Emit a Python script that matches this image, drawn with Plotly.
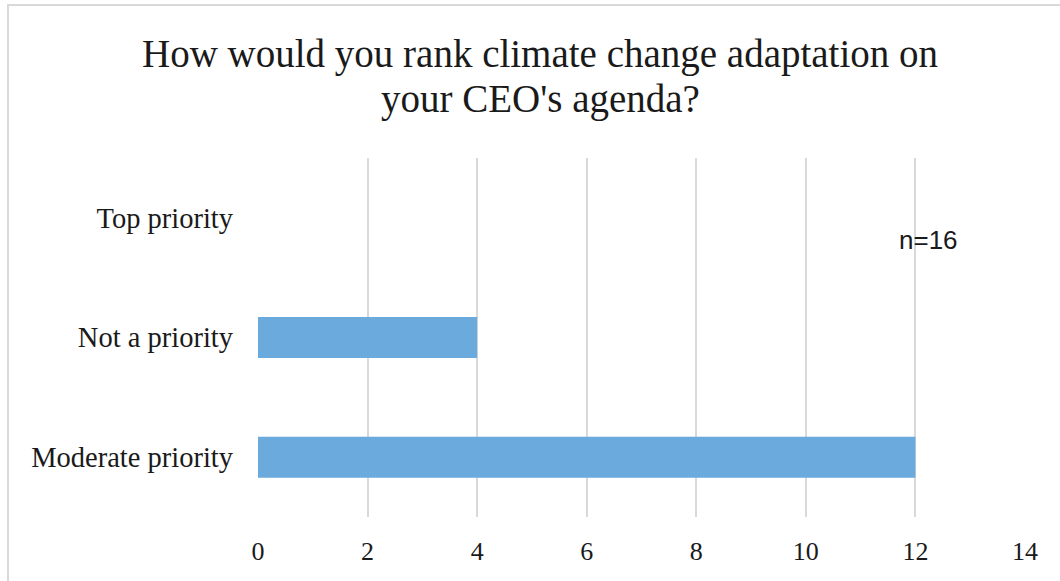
import plotly.graph_objects as go

categories = ["Moderate priority", "Not a priority", "Top priority"]
counts = [12, 4, 0]
tick_values = [0, 2, 4, 6, 8, 10, 12, 14]
title_lines = ["How would you rank climate change adaptation on", "your CEO's agenda?"]
note_text = "n=16"

W, H = 1060, 581
L, R, T, B = 258, 35, 158, 64
pw, ph = W - L - R, H - T - B

def px(x):
    return (x - L) / pw

def py(y):
    return (H - B - y) / ph

fig = go.Figure(
    go.Bar(
        y=categories,
        x=counts,
        orientation="h",
        marker=dict(color="#6aaadc", line=dict(width=0)),
        hoverinfo="x+y",
    )
)

serif = "Liberation Serif"
ink = "#1a1a1a"

annotations = []
for line, yc in zip(title_lines, [54, 99]):
    annotations.append(
        dict(
            text=line,
            xref="paper",
            yref="paper",
            x=px(540),
            y=py(yc),
            xanchor="center",
            yanchor="middle",
            showarrow=False,
            font=dict(family=serif, size=39, color=ink),
        )
    )
annotations.append(
    dict(
        text=note_text,
        xref="paper",
        yref="paper",
        x=px(928),
        y=py(240),
        xanchor="center",
        yanchor="middle",
        showarrow=False,
        font=dict(family="Liberation Sans", size=26, color=ink),
    )
)

fig.update_layout(
    width=W,
    height=H,
    margin=dict(l=L, r=R, t=T, b=B),
    paper_bgcolor="white",
    plot_bgcolor="white",
    bargap=0.657,
    showlegend=False,
    xaxis=dict(
        range=[0, 14],
        tickvals=tick_values,
        showgrid=True,
        gridcolor="#d9d9d9",
        gridwidth=2,
        zeroline=False,
        showline=False,
        ticks="",
        ticklabelstandoff=16,
        tickfont=dict(family=serif, size=26, color=ink),
        fixedrange=True,
    ),
    yaxis=dict(
        categoryorder="array",
        categoryarray=categories,
        showgrid=False,
        zeroline=False,
        showline=False,
        ticks="",
        ticklabelstandoff=24,
        tickfont=dict(family=serif, size=28.5, color=ink),
        fixedrange=True,
    ),
    shapes=[
        dict(
            type="rect",
            xref="paper",
            yref="paper",
            x0=px(8),
            x1=px(W + 20),
            y0=py(H + 20),
            y1=py(5),
            line=dict(color="#d9d9d9", width=2),
            fillcolor="rgba(0,0,0,0)",
            layer="below",
        )
    ],
    annotations=annotations,
)

fig.write_html("out.html")
